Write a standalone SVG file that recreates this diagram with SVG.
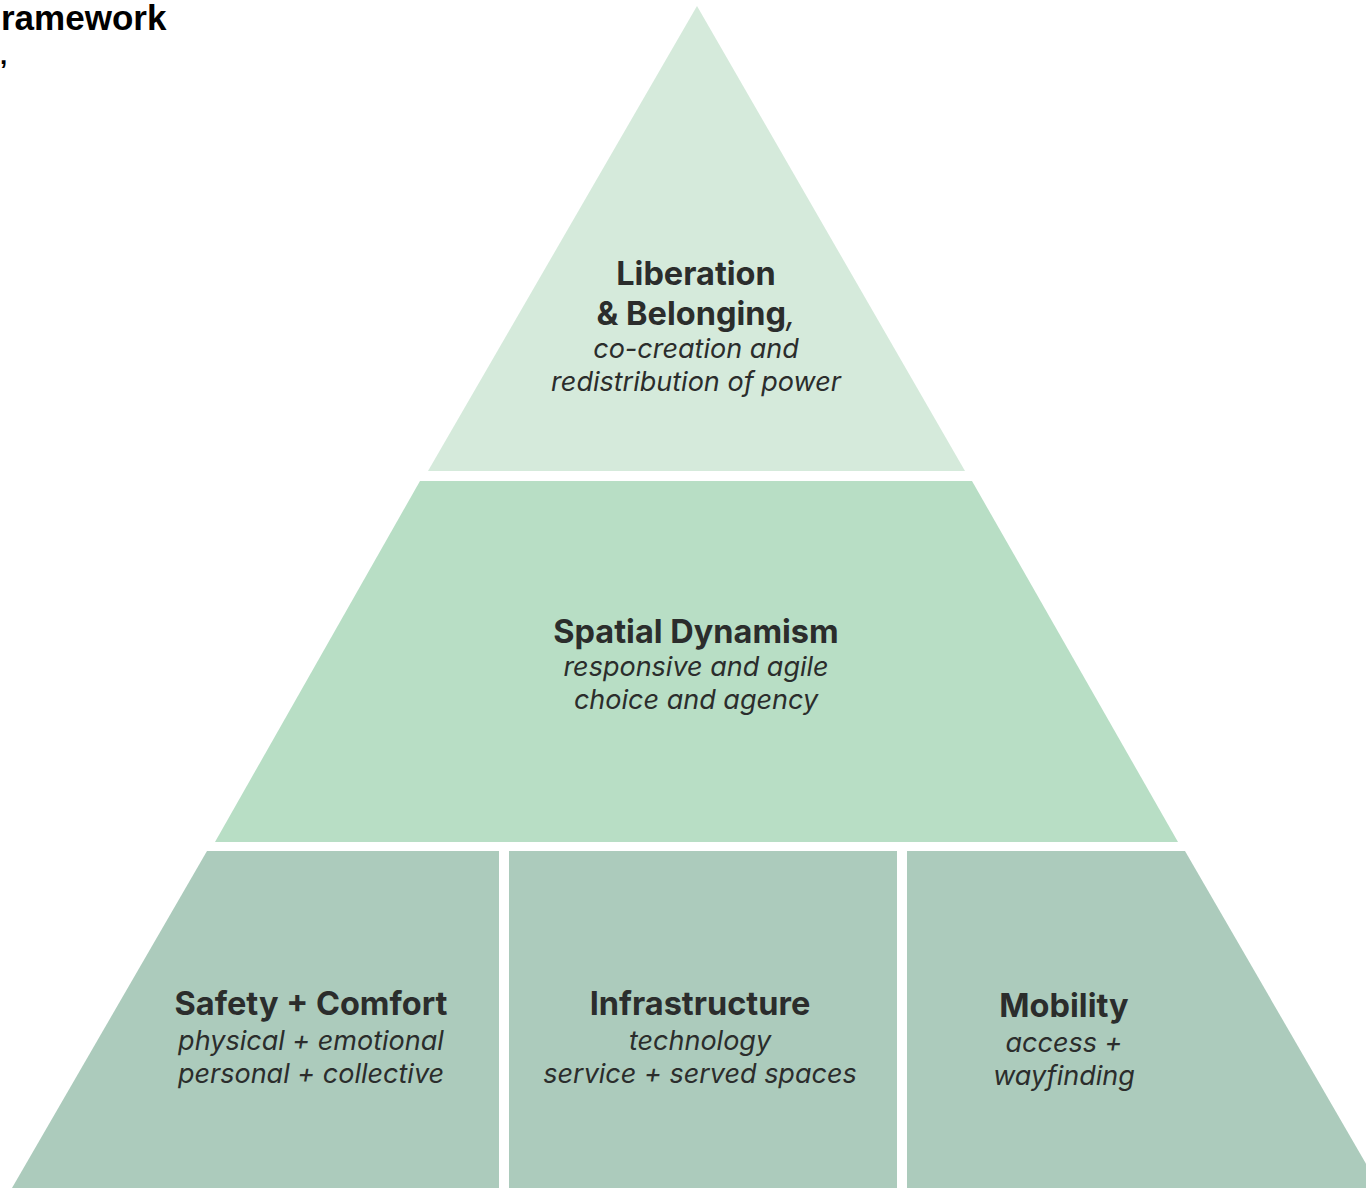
<svg xmlns="http://www.w3.org/2000/svg" width="1366" height="1188" viewBox="0 0 1366 1188">
<style>
.h{font-family:Inter,"Noto Sans",sans-serif;font-weight:700;font-size:32.5px;fill:#2b2d2c;text-anchor:middle}
.s{font-family:Inter,"Noto Sans",sans-serif;font-style:italic;font-size:27px;fill:#2b2d2c;text-anchor:middle}
.t{font-family:"Liberation Sans",Arial,sans-serif;font-weight:700;font-size:35px;fill:#000}
</style>
<rect width="1366" height="1188" fill="#ffffff"/>
<text class="t" x="1" y="30">ramework</text>
<text class="t" x="0" y="64" style="font-size:26px">,</text>
<g id="tier-top">
<polygon points="697,6 965,471 428,471" fill="#d5eadb"/>
<text class="h" x="696" y="285">Liberation</text>
<text class="h" x="696" y="325">&amp; Belonging<tspan style="font-weight:400;font-style:italic">,</tspan></text>
<text class="s" x="696" y="358">co-creation and</text>
<text class="s" x="696" y="391">redistribution of power</text>
</g>
<g id="tier-middle">
<polygon points="420,481 972,481 1178,842 215,842" fill="#b8dec5"/>
<text class="h" x="696" y="643">Spatial Dynamism</text>
<text class="s" x="696" y="676">responsive and agile</text>
<text class="s" x="696" y="709">choice and agency</text>
</g>
<g id="safety-comfort">
<polygon points="207,851 499,851 499,1188 12,1188" fill="#accbbc"/>
<text class="h" x="311" y="1015">Safety + Comfort</text>
<text class="s" x="311" y="1050">physical + emotional</text>
<text class="s" x="311" y="1083">personal + collective</text>
</g>
<g id="infrastructure">
<rect x="509" y="851" width="388" height="337" fill="#accbbc"/>
<text class="h" x="700" y="1015">Infrastructure</text>
<text class="s" x="700" y="1050">technology</text>
<text class="s" x="700" y="1083">service + served spaces</text>
</g>
<g id="mobility">
<polygon points="907,851 1185,851 1380,1188 907,1188" fill="#accbbc"/>
<text class="h" x="1064" y="1017">Mobility</text>
<text class="s" x="1064" y="1052">access +</text>
<text class="s" x="1064" y="1085">wayfinding</text>
</g>
<g id="connectors"></g>
</svg>
